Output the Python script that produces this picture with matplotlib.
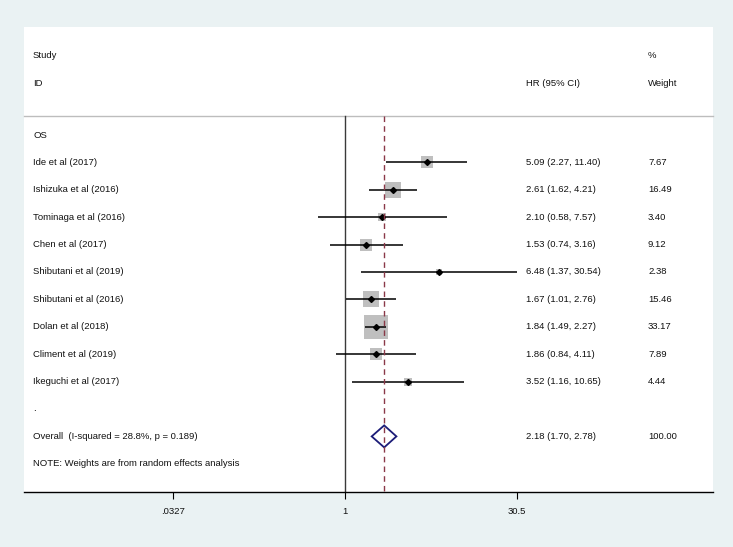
import matplotlib
matplotlib.use("Agg")
import matplotlib.pyplot as plt
from matplotlib.patches import Polygon
import numpy as np

plt.rcParams['font.family'] = ['Liberation Sans', 'DejaVu Sans']

# ---- data ----
studies = ["Ide et al (2017)", "Ishizuka et al (2016)", "Tominaga et al (2016)",
           "Chen et al (2017)", "Shibutani et al (2019)", "Shibutani et al (2016)",
           "Dolan et al (2018)", "Climent et al (2019)", "Ikeguchi et al (2017)"]
hr = [5.09, 2.61, 2.10, 1.53, 6.48, 1.67, 1.84, 1.86, 3.52]
lo = [2.27, 1.62, 0.58, 0.74, 1.37, 1.01, 1.49, 0.84, 1.16]
hi = [11.40, 4.21, 7.57, 3.16, 30.54, 2.76, 2.27, 4.11, 10.65]
weights = [7.67, 16.49, 3.40, 9.12, 2.38, 15.46, 33.17, 7.89, 4.44]
overall_hr, overall_lo, overall_hi = 2.18, 1.70, 2.78
overall_weight = 100.00
overall_label = "Overall  (I-squared = 28.8%, p = 0.189)"
subgroup = "OS"
note = "NOTE: Weights are from random effects analysis"
tick_vals = [0.0327, 1, 30.5]
tick_labels = [".0327", "1", "30.5"]

# ---- layout ----
W, H = 733, 547
fig = plt.figure(figsize=(W / 100, H / 100), dpi=100)
fig.patch.set_facecolor('#eaf2f3')

x0, x1 = 24, 713
y_top, y_bot = 27, 492
ax = fig.add_axes([x0 / W, (H - y_bot) / H, (x1 - x0) / W, (y_bot - y_top) / H])
ax.set_facecolor('white')

px_per_dec = 115.8
null_px = 345
ax.set_xscale('log')
ax.set_xlim(10 ** ((x0 - null_px) / px_per_dec), 10 ** ((x1 - null_px) / px_per_dec))

row0_px, row_h = 135, 27.4
def r_of(px):
    return (px - row0_px) / row_h
ax.set_ylim(r_of(y_bot), r_of(y_top))

fs = 6.8
col_study = (33 - x0) / (x1 - x0)
col_hr = (526 - x0) / (x1 - x0)
col_w = (648 - x0) / (x1 - x0)
tr = ax.get_yaxis_transform()
tc = '#111111'

# headers
ax.text(col_study, r_of(55), "Study", transform=tr, fontsize=fs, va='center', color=tc)
ax.text(col_study, r_of(83), "ID", transform=tr, fontsize=fs, va='center', color=tc)
ax.text(col_hr, r_of(83), "HR (95% CI)", transform=tr, fontsize=fs, va='center', color=tc)
ax.text(col_w, r_of(55), "%", transform=tr, fontsize=fs, va='center', color=tc)
ax.text(col_w, r_of(83), "Weight", transform=tr, fontsize=fs, va='center', color=tc)
line_r = r_of(116)
ax.plot([0, 1], [line_r, line_r], transform=tr, color='#bdbdbd', lw=1.0, clip_on=False)

# null line
ax.plot([1, 1], [line_r, r_of(y_bot)], color='#3a3a3a', lw=1.0, zorder=2)

ax.text(col_study, 0, subgroup, transform=tr, fontsize=fs, va='center', color=tc)

for i, (name, e, l, h, w) in enumerate(zip(studies, hr, lo, hi, weights)):
    r = i + 1
    ax.scatter([e], [r], marker='s', s=8.8 * w, color='#bfbfbf', linewidths=0, zorder=3)
    ax.plot([l, h], [r, r], color='black', lw=1.1, zorder=4, solid_capstyle='butt')
    ax.plot([e], [r], marker='D', markersize=3.0, color='black', zorder=5)
    ax.text(col_study, r, name, transform=tr, fontsize=fs, va='center', color=tc)
    ax.text(col_hr, r, f"{e:.2f} ({l:.2f}, {h:.2f})", transform=tr, fontsize=fs, va='center', color=tc)
    ax.text(col_w, r, f"{w:.2f}", transform=tr, fontsize=fs, va='center', color=tc)

ax.text(col_study, 10, ".", transform=tr, fontsize=fs, va='center', color=tc)

ro = 11
dh = 11 / row_h
diamond = Polygon([[overall_lo, ro], [overall_hr, ro - dh], [overall_hi, ro], [overall_hr, ro + dh]],
                  closed=True, fill=False, edgecolor='#1c1c78', lw=1.3, zorder=5)
ax.add_patch(diamond)
ax.plot([overall_hr, overall_hr], [line_r, r_of(y_bot)], color='#8a3848', lw=1.0,
        linestyle=(0, (4, 3)), zorder=6)
ax.text(col_study, ro, overall_label, transform=tr, fontsize=fs, va='center', color=tc)
ax.text(col_hr, ro, f"{overall_hr:.2f} ({overall_lo:.2f}, {overall_hi:.2f})", transform=tr,
        fontsize=fs, va='center', color=tc)
ax.text(col_w, ro, f"{overall_weight:.2f}", transform=tr, fontsize=fs, va='center', color=tc)

ax.text(col_study, 12, note, transform=tr, fontsize=fs, va='center', color=tc)

for s in ['top', 'right', 'left']:
    ax.spines[s].set_visible(False)
ax.spines['bottom'].set_color('black')
ax.spines['bottom'].set_linewidth(1.0)
ax.set_yticks([])
ax.set_xticks(tick_vals)
ax.set_xticklabels(tick_labels, fontsize=fs, color=tc)
ax.xaxis.set_minor_locator(matplotlib.ticker.NullLocator())
ax.tick_params(axis='x', direction='out', length=5, width=0.8, pad=6)

fig.savefig("out.png", dpi=100, facecolor=fig.get_facecolor())
